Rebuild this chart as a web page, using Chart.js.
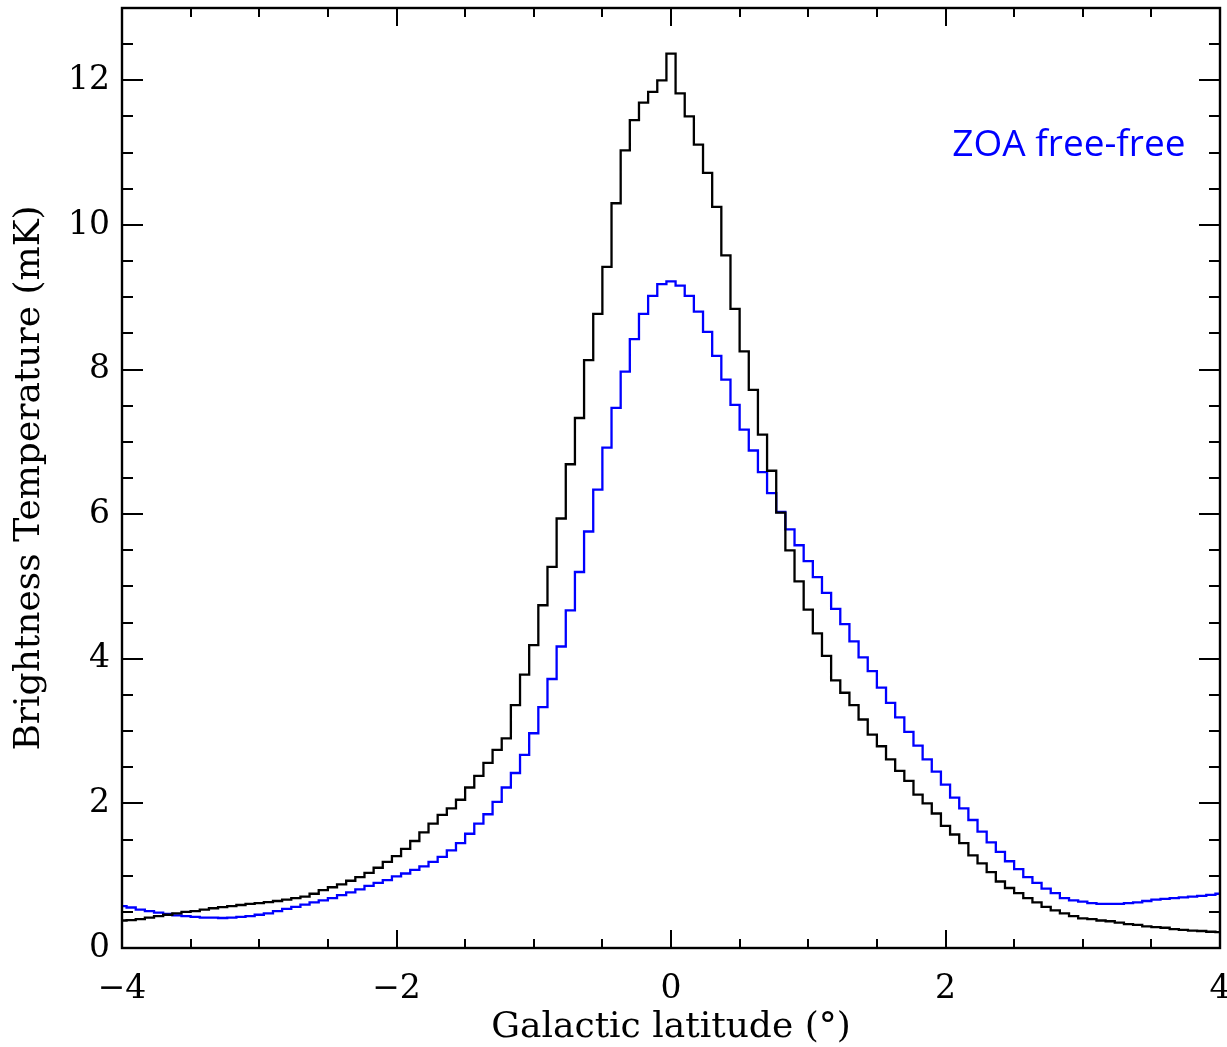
<!DOCTYPE html>
<html>
<head>
<meta charset="utf-8">
<script src="https://cdn.jsdelivr.net/npm/chart.js@4/dist/chart.umd.min.js"></script>
<style>
html,body{margin:0;padding:0;background:#fff;}
#wrap{position:relative;width:1227px;height:1047px;}
</style>
</head>
<body>
<div id="wrap"><canvas id="c" width="1227" height="1047"></canvas></div>
<script>
// Histogram bins: 4 arcmin (1/15 deg) wide, centred from -4 to +4 deg
const binCount = 121;
const binStart = -4;
const binWidth = 1 / 15;
const latitude = [];
for (let i = 0; i < binCount; i++) latitude.push(+(binStart + i * binWidth).toFixed(4));

// Black histogram (total)
const blackSeries = [
  0.38,0.385,0.40,0.42,0.44,0.46,0.48,0.50,0.51,0.53,
  0.55,0.565,0.58,0.595,0.61,0.62,0.635,0.65,0.67,0.69,
  0.71,0.75,0.80,0.84,0.88,0.93,0.98,1.04,1.11,1.19,
  1.27,1.37,1.48,1.60,1.72,1.84,1.93,2.05,2.22,2.38,
  2.56,2.74,2.90,3.36,3.78,4.19,4.74,5.27,5.94,6.69,
  7.33,8.13,8.77,9.42,10.30,11.03,11.45,11.69,11.84,12.00,
  12.37,
  11.82,11.50,11.11,10.72,10.25,9.58,8.84,8.25,7.72,7.10,
  6.60,6.02,5.50,5.07,4.68,4.35,4.04,3.70,3.53,3.36,
  3.16,2.95,2.79,2.61,2.45,2.31,2.12,2.00,1.86,1.69,
  1.57,1.45,1.28,1.17,1.05,0.92,0.83,0.76,0.69,0.63,
  0.57,0.52,0.48,0.44,0.41,0.40,0.38,0.37,0.35,0.33,
  0.32,0.30,0.29,0.28,0.26,0.25,0.24,0.235,0.225,0.22
];

// Blue histogram (ZOA free-free)
const blueSeries = [
  0.58,0.56,0.53,0.51,0.49,0.47,0.45,0.44,0.43,0.42,
  0.42,0.415,0.42,0.43,0.44,0.46,0.48,0.51,0.54,0.57,
  0.60,0.63,0.66,0.69,0.73,0.77,0.81,0.86,0.90,0.94,
  0.99,1.03,1.08,1.13,1.19,1.26,1.35,1.45,1.58,1.72,
  1.85,2.02,2.22,2.42,2.67,2.97,3.33,3.72,4.17,4.67,
  5.20,5.76,6.34,6.92,7.47,7.97,8.42,8.77,9.02,9.18,
  9.22,
  9.16,9.02,8.80,8.52,8.19,7.86,7.51,7.17,6.88,6.58,
  6.29,6.03,5.79,5.57,5.35,5.13,4.91,4.69,4.48,4.24,
  4.02,3.83,3.60,3.39,3.19,2.99,2.80,2.61,2.44,2.26,
  2.08,1.93,1.77,1.61,1.46,1.33,1.20,1.09,0.98,0.90,
  0.82,0.76,0.69,0.66,0.64,0.62,0.61,0.61,0.61,0.62,
  0.63,0.65,0.67,0.68,0.69,0.70,0.71,0.72,0.735,0.75
];

const xMajorTicks = [-4, -2, 0, 2, 4];
const xMinorTicks = [-3.5, -3, -2.5, -1.5, -1, -0.5, 0.5, 1, 1.5, 2.5, 3, 3.5];
const yMajorTicks = [0, 2, 4, 6, 8, 10, 12];
const yMinorTicks = [0.5, 1, 1.5, 2.5, 3, 3.5, 4.5, 5, 5.5, 6.5, 7, 7.5, 8.5, 9, 9.5, 10.5, 11, 11.5, 12.5];
const xTitle = 'Galactic latitude (°)';
const yTitle = 'Brightness Temperature (mK)';
const annotationText = 'ZOA free-free';

const toPoints = (vals) => vals.map((v, i) => ({ x: latitude[i], y: v }));

const framePlugin = {
  id: 'idlFrame',
  afterDatasetsDraw(chart) {
    const ctx = chart.ctx;
    const xs = chart.scales.x, ys = chart.scales.y;
    const { left, right, top, bottom } = chart.chartArea;
    ctx.save();
    ctx.strokeStyle = '#000';
    ctx.lineWidth = 2.4;
    ctx.strokeRect(left, top, right - left, bottom - top);
    ctx.beginPath();
    ctx.lineWidth = 2;
    const xt = (vals, len) => vals.forEach(v => {
      const p = Math.round(xs.getPixelForValue(v));
      ctx.moveTo(p, bottom); ctx.lineTo(p, bottom - len);
      ctx.moveTo(p, top); ctx.lineTo(p, top + len);
    });
    const yt = (vals, len) => vals.forEach(v => {
      const p = Math.round(ys.getPixelForValue(v));
      ctx.moveTo(left, p); ctx.lineTo(left + len, p);
      ctx.moveTo(right, p); ctx.lineTo(right - len, p);
    });
    xt(xMajorTicks, 18); xt(xMinorTicks, 9);
    yt(yMajorTicks, 21); yt(yMinorTicks, 11);
    ctx.stroke();
    ctx.fillStyle = '#0000ff';
    ctx.font = '37px "Open Sans"';
    ctx.textBaseline = 'alphabetic';
    ctx.textAlign = 'left';
    ctx.fillText(annotationText, xs.getPixelForValue(2.05), ys.getPixelForValue(10.95));
    ctx.restore();
  }
};

const serif = '"DejaVu Serif"';

new Chart(document.getElementById('c'), {
  type: 'line',
  data: {
    datasets: [
      { label: 'Total', data: toPoints(blackSeries), borderColor: '#000000', borderWidth: 2.3,
        stepped: 'middle', pointRadius: 0, fill: false, order: 0 },
      { label: 'ZOA free-free', data: toPoints(blueSeries), borderColor: '#0000ff', borderWidth: 2.3,
        stepped: 'middle', pointRadius: 0, fill: false, order: 1 }
    ]
  },
  options: {
    responsive: false,
    animation: false,
    devicePixelRatio: 1,
    layout: { padding: { top: 8, right: 7, left: 0, bottom: 0 } },
    plugins: { legend: { display: false }, tooltip: { enabled: false } },
    scales: {
      x: {
        type: 'linear', min: -4, max: 4,
        grid: { display: false, drawTicks: false },
        border: { display: false },
        ticks: {
          stepSize: 2, padding: 22, color: '#000', maxRotation: 0,
          font: { family: serif, size: 33 },
          callback: (v) => (v < 0 ? '\u2212' + Math.abs(v) : String(v))
        },
        title: { display: true, text: xTitle, color: '#000', font: { family: serif, size: 36, lineHeight: 1.05 },
          padding: { top: 0, bottom: 0 } },
        afterFit: (s) => { s.height = 99; s.paddingLeft = 0; s.paddingRight = 0; }
      },
      y: {
        type: 'linear', min: 0, max: 13,
        grid: { display: false, drawTicks: false },
        border: { display: false },
        ticks: {
          stepSize: 2, padding: 12, color: '#000', includeBounds: false,
          font: { family: serif, size: 33 },
          callback: (v) => (yMajorTicks.includes(v) ? String(v) : '')
        },
        title: { display: true, text: yTitle, color: '#000', font: { family: serif, size: 36 },
          padding: { top: 8, bottom: 0 } },
        afterFit: (s) => { s.width = 122; s.paddingTop = 0; s.paddingBottom = 0; }
      }
    }
  },
  plugins: [framePlugin]
});
</script>
</body>
</html>
